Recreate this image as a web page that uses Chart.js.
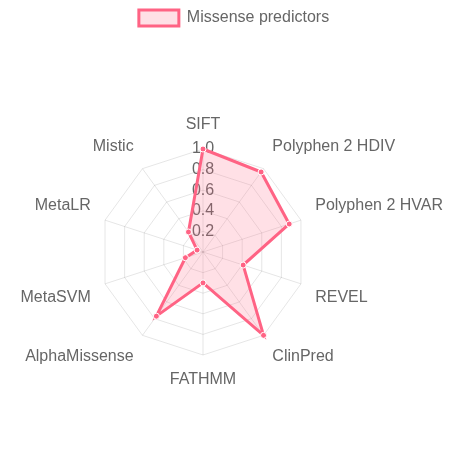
<!DOCTYPE html>
<html>
<head>
<meta charset="utf-8">
<script src="https://cdn.jsdelivr.net/npm/chart.js@4"></script>
<style>
html,body{margin:0;padding:0;background:#fff;}
#wrap{width:468px;height:468px;}
</style>
</head>
<body>
<div id="wrap"><canvas id="c"></canvas></div>
<script>
const categories = ["SIFT","Polyphen 2 HDIV","Polyphen 2 HVAR","REVEL","ClinPred","FATHMM","AlphaMissense","MetaSVM","MetaLR","Mistic"];
const seriesName = "Missense predictors";
const values = [1.0, 0.96, 0.88, 0.41, 1.0, 0.30, 0.77, 0.18, 0.06, 0.24];
const tickValues = [0.2, 0.4, 0.6, 0.8, 1.0];

Chart.defaults.font.family = "'Liberation Sans', Arial, sans-serif";
Chart.defaults.font.size = 16;
Chart.defaults.color = '#666';

new Chart(document.getElementById('c'), {
  type: 'radar',
  data: {
    labels: categories,
    datasets: [{
      label: seriesName,
      data: values,
      backgroundColor: 'rgba(255,99,132,0.2)',
      borderColor: 'rgb(255,99,132)',
      borderWidth: 3,
      pointBackgroundColor: 'rgb(255,99,132)',
      pointBorderColor: '#fff',
      pointRadius: 3,
      pointBorderWidth: 1
    }]
  },
  options: {
    responsive: true,
    maintainAspectRatio: false,
    animation: false,
    plugins: {
      legend: { position: 'top' }
    },
    scales: {
      r: {
        min: 0,
        max: 1,
        ticks: {
          stepSize: 0.2,
          showLabelBackdrop: false,
          color: '#666',
          font: { size: 16 },
          callback: (v) => tickValues.some(t => Math.abs(t - v) < 1e-9) ? v.toFixed(1) : ''
        },
        pointLabels: { color: '#666', font: { size: 16 } },
        grid: { color: 'rgba(0,0,0,0.1)' },
        angleLines: { color: 'rgba(0,0,0,0.1)' }
      }
    }
  }
});
</script>
</body>
</html>
